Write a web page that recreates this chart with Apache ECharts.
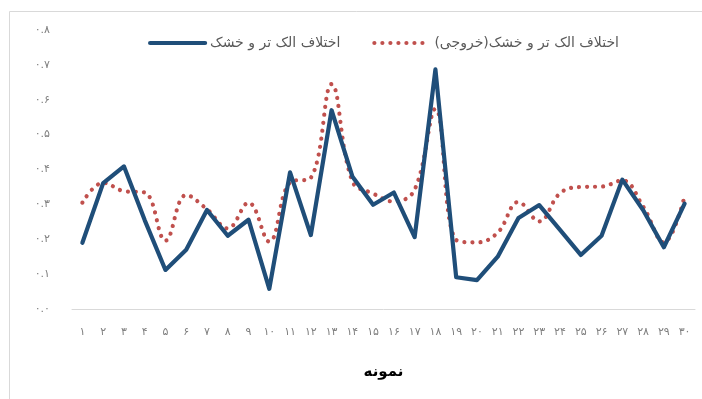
<!DOCTYPE html>
<html dir="ltr">
<head>
<meta charset="utf-8">
<script src="https://cdn.jsdelivr.net/npm/echarts@6/dist/echarts.min.js"></script>
<style>
  html, body { margin: 0; padding: 0; background: #fff; }
  #chart { width: 702px; height: 399px; }
</style>
</head>
<body>
<div id="chart"></div>
<script>
var categories = ['1','2','3','4','5','6','7','8','9','10','11','12','13','14','15',
  '16','17','18','19','20','21','22','23','24','25','26','27','28','29','30']
var measured = [0.190, 0.361, 0.409, 0.255, 0.112, 0.170, 0.284, 0.210, 0.256, 0.058,
  0.392, 0.212, 0.570, 0.380, 0.299, 0.334, 0.206, 0.687, 0.091, 0.083,
  0.150, 0.261, 0.298, 0.227, 0.155, 0.210, 0.371, 0.284, 0.177, 0.302]
var output = [0.305, 0.362, 0.338, 0.334, 0.196, 0.327, 0.286, 0.231, 0.305, 0.193,
  0.363, 0.376, 0.645, 0.366, 0.331, 0.308, 0.342, 0.574, 0.198, 0.191,
  0.219, 0.307, 0.251, 0.332, 0.350, 0.351, 0.369, 0.294, 0.191, 0.323]
var seriesNames = ['اختلاف الک تر و خشک', 'اختلاف الک تر و خشک(خروجی)']
var xName = 'نمونه'

// persian digits for the tick labels
function fa (s) {
  return String(s).replace(/[0-9]/g, function (d) { return '۰۱۲۳۴۵۶۷۸۹'[+d] })
}

var font = 'DejaVu Sans, Noto Sans, sans-serif'
var chart = echarts.init(document.getElementById('chart'))
chart.setOption({
  animation: false,
  graphic: [{
    type: 'rect',
    shape: { x: 9.5, y: 11.5, width: 720, height: 420 },
    style: { fill: 'none', stroke: '#d9d9d9', lineWidth: 1 },
    silent: true
  }],
  legend: {
    left: 143,
    top: 31,
    itemWidth: 55,
    itemHeight: 10,
    itemGap: 32,
    itemStyle: { opacity: 0 },
    lineStyle: { width: 4.2 },
    textStyle: { color: '#595959', fontSize: 14, fontFamily: font },
    data: seriesNames
  },
  grid: { left: 72, right: 7, top: 30, bottom: 90, containLabel: false },
  xAxis: {
    type: 'category',
    data: categories,
    boundaryGap: true,
    name: xName,
    nameLocation: 'middle',
    nameGap: 56,
    nameTextStyle: { color: '#000', fontSize: 15, fontWeight: 'bold', fontFamily: font },
    axisLine: { lineStyle: { color: '#d9d9d9', width: 1 } },
    axisTick: { show: false },
    axisLabel: {
      interval: 0,
      margin: 18,
      color: '#7f7f7f',
      fontSize: 11,
      fontFamily: font,
      formatter: function (v) { return fa(v) }
    }
  },
  yAxis: {
    type: 'value',
    min: 0,
    max: 0.8,
    interval: 0.1,
    axisLine: { show: false },
    axisTick: { show: false },
    splitLine: { show: false },
    axisLabel: {
      margin: 22,
      color: '#7f7f7f',
      fontSize: 11,
      fontFamily: font,
      formatter: function (v) { return fa(v.toFixed(1)) }
    }
  },
  series: [{
    name: seriesNames[0],
    type: 'line',
    data: measured,
    symbol: 'none',
    lineStyle: { color: '#1f4e79', width: 4.2, join: 'round', cap: 'round' },
    itemStyle: { color: '#1f4e79' },
    z: 3
  }, {
    name: seriesNames[1],
    type: 'line',
    data: output,
    symbol: 'none',
    smooth: 0.4,
    lineStyle: { color: '#c0504d', width: 4.2, type: [0.01, 8], cap: 'round' },
    itemStyle: { color: '#c0504d' },
    z: 2
  }]
})
</script>
</body>
</html>
